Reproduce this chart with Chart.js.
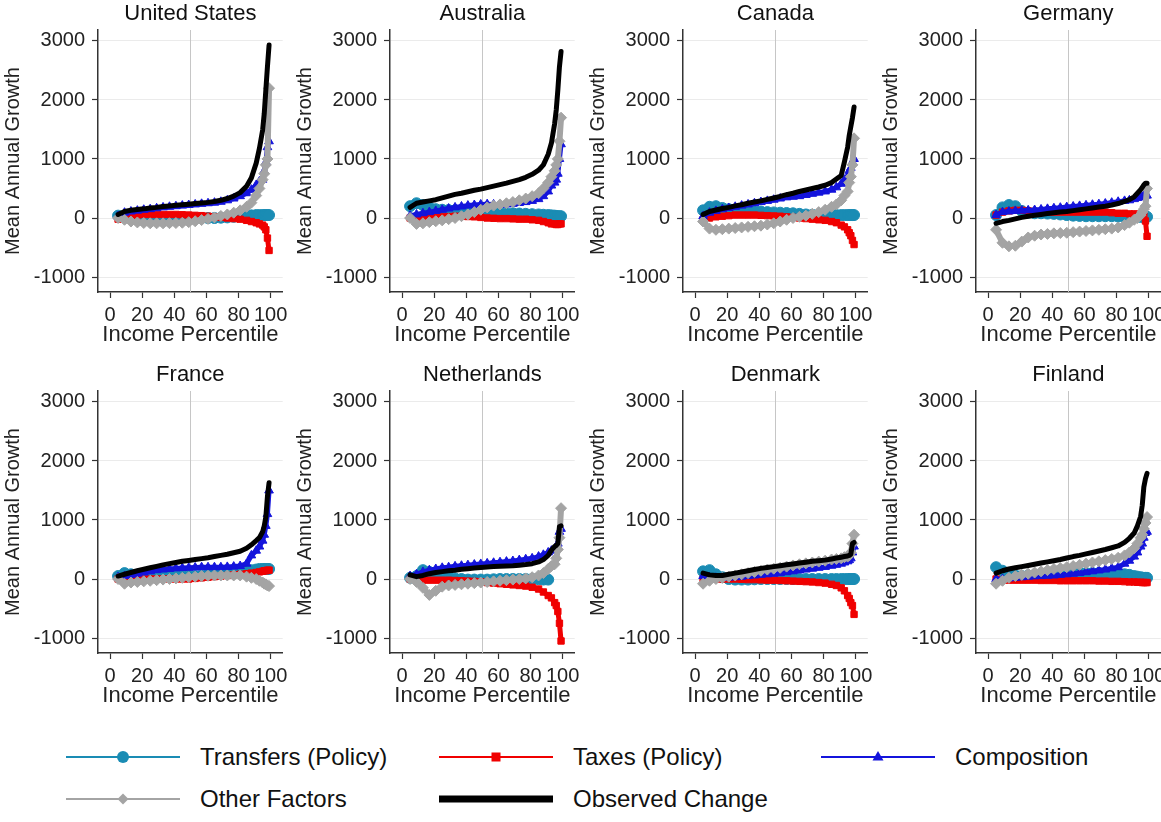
<!DOCTYPE html>
<html>
<head>
<meta charset="utf-8">
<script src="https://cdn.jsdelivr.net/npm/chart.js@4.4.0/dist/chart.umd.min.js"></script>
<style>
  body { margin: 0; background: #fff; width: 1161px; height: 822px; overflow: hidden; position: relative;
         font-family: "Liberation Sans", Arial, sans-serif; }
  .panel { position: absolute; width: 293px; height: 360px; }
  .lg { position: absolute; height: 24px; display: flex; align-items: center; font-size: 24px; color: #111; white-space: nowrap; }
  .lg svg { margin-right: 20px; }
</style>
</head>
<body>
<script>
// percentiles where the decomposition is plotted
const percentiles = [5,9,13,17,21,25,29,33,37,41,45,49,53,57,61,65,69,73,77,81,85,88,91,93,95,96,97,98,99];
const xTicks = [0, 20, 40, 60, 80, 100];
const yTicks = [-1000, 0, 1000, 2000, 3000];
const seriesNames = ['Transfers (Policy)', 'Taxes (Policy)', 'Composition', 'Other Factors', 'Observed Change'];

// United States
const usTransfers   = [40,30,20,15,10,5,0,0,0,0,0,0,0,0,0,0,5,10,20,30,40,45,50,50,50,50,50,50,50];
const usTaxes       = [-20,0,30,50,60,60,60,60,60,60,55,50,45,40,30,20,10,0,-10,-20,-40,-60,-80,-100,-120,-150,-200,-340,-550];
const usComposition = [30,90,110,125,140,150,165,180,190,200,210,220,230,240,250,260,275,300,330,370,420,480,560,620,650,800,950,1200,1300];
const usOther       = [0,-30,-60,-75,-85,-90,-90,-90,-88,-85,-80,-70,-55,-35,-15,10,35,60,90,130,190,260,380,500,650,750,900,1000,2200];
const usObserved    = [60,110,130,145,155,170,180,195,205,215,225,235,245,255,265,280,300,330,370,430,540,680,930,1180,1490,1770,2170,2565,2930];

// Australia
const auTransfers   = [200,250,220,180,150,140,135,130,120,115,110,100,95,90,85,80,80,75,70,65,60,55,50,45,40,35,30,30,30];
const auTaxes       = [0,-10,0,10,15,20,25,30,30,25,20,10,0,-5,-10,-10,-15,-20,-20,-30,-40,-60,-80,-100,-100,-110,-110,-100,-100];
const auComposition = [40,60,80,100,120,140,160,180,195,210,220,230,235,230,225,230,240,255,270,290,320,370,450,550,600,650,750,1000,1250];
const auOther       = [0,-100,-90,-70,-55,-40,-20,0,30,60,100,140,180,210,230,250,270,300,330,370,420,500,600,700,800,900,1000,1300,1700];
const auObserved    = [180,250,270,290,310,340,370,400,420,445,470,490,515,540,565,590,620,650,690,740,810,900,1080,1270,1600,1830,2170,2565,2820];

// Canada
const caTransfers   = [130,190,200,170,150,140,130,120,115,110,100,95,90,85,80,70,60,55,50,50,50,50,50,50,50,50,50,50,50];
const caTaxes       = [-30,0,20,30,40,50,50,50,50,45,40,35,30,20,10,0,-10,-20,-30,-40,-60,-80,-120,-150,-200,-250,-300,-380,-450];
const caComposition = [30,90,120,150,170,190,210,230,250,270,290,310,330,350,360,370,390,410,430,450,480,520,580,650,700,800,850,950,1000];
const caOther       = [-60,-180,-200,-190,-180,-170,-160,-150,-140,-130,-110,-90,-60,-30,0,20,40,70,100,140,190,230,300,380,450,600,700,900,1350];
const caObserved    = [60,110,135,160,180,205,225,250,270,290,315,340,365,395,420,450,475,500,525,555,600,660,720,950,1200,1400,1550,1700,1880];

// Germany
const deTransfers   = [50,180,220,200,120,90,80,80,75,70,60,50,40,35,30,30,30,30,30,25,20,20,20,20,20,20,20,20,20];
const deTaxes       = [50,100,120,130,130,120,110,100,100,100,100,100,100,100,100,100,100,100,90,80,80,70,70,60,50,40,50,-50,-310];
const deComposition = [50,100,110,120,125,130,135,145,155,165,175,185,195,205,215,225,235,245,260,275,290,300,320,340,350,360,370,380,380];
const deOther       = [-200,-420,-480,-470,-400,-330,-300,-280,-270,-260,-255,-250,-240,-230,-220,-210,-200,-190,-180,-160,-120,-80,-30,0,50,100,150,200,500];
const deObserved    = [-90,-60,-40,-15,10,30,45,60,75,90,100,110,125,140,155,170,185,200,220,245,280,310,360,420,480,520,560,590,590];

// France
const frTransfers   = [50,100,80,60,50,50,50,50,50,50,50,50,50,60,70,80,90,100,110,120,140,150,160,170,170,170,170,170,170];
const frTaxes       = [0,-20,-10,0,0,0,0,0,0,0,0,0,10,20,30,40,50,60,70,80,90,100,110,120,130,140,140,150,150];
const frComposition = [30,50,70,90,110,130,150,160,170,180,185,190,195,200,200,200,200,205,210,220,260,400,480,550,650,750,900,1100,1500];
const frOther       = [0,-80,-60,-50,-40,-30,-20,-10,0,10,20,30,40,50,55,60,60,60,60,60,40,20,0,-30,-60,-80,-90,-110,-120];
const frObserved    = [50,80,110,140,165,190,215,240,260,280,300,315,330,345,360,380,400,420,445,470,520,580,650,700,800,900,1050,1400,1630];

// Netherlands
const nlTransfers   = [20,50,150,120,80,50,30,10,0,-10,-10,-10,-10,-5,0,0,0,0,0,0,-5,-10,-10,null,null,null,null,null,null];
const nlTaxes       = [0,-10,-20,-20,-20,-20,-20,-25,-30,-35,-40,-45,-60,-70,-80,-90,-100,-110,-120,-140,-170,-220,-280,-320,-400,-450,-550,-750,-1050];
const nlComposition = [50,80,120,150,170,190,200,215,225,235,245,255,265,275,285,295,305,320,335,350,380,410,450,480,500,550,600,800,850];
const nlOther       = [0,-50,-150,-270,-200,-130,-110,-100,-90,-80,-70,-60,-50,-40,-30,-20,-10,0,10,30,60,100,170,220,250,350,500,700,1200];
const nlObserved    = [70,40,60,90,110,125,140,150,165,175,185,195,205,210,215,220,225,235,245,260,290,330,400,490,550,570,600,890,900];

// Denmark
const dkTransfers   = [130,150,80,30,0,-10,-10,-10,-5,0,0,0,0,0,0,0,0,0,0,0,0,0,0,0,0,0,0,0,0];
const dkTaxes       = [0,0,0,0,0,0,-5,-10,-10,-15,-20,-20,-25,-30,-35,-40,-45,-50,-60,-70,-90,-110,-150,-200,-280,-330,-400,-450,-600];
const dkComposition = [50,30,20,20,25,30,40,50,60,70,80,90,100,115,130,145,160,175,190,205,225,240,260,280,300,320,350,450,550];
const dkOther       = [-80,-30,0,20,40,60,80,100,120,140,160,175,190,210,230,250,265,280,295,310,330,340,350,370,380,400,450,600,750];
const dkObserved    = [100,70,60,60,80,100,120,140,160,180,195,210,225,240,255,270,285,300,310,320,340,355,370,380,390,400,420,600,620];

// Finland
const fiTransfers   = [200,140,80,60,50,60,70,80,90,100,100,100,100,100,100,100,100,95,90,85,80,70,50,40,30,20,20,20,20];
const fiTaxes       = [0,-20,-20,-20,-20,-20,-20,-25,-25,-25,-30,-30,-30,-30,-30,-30,-35,-35,-40,-40,-45,-50,-50,-55,-55,-60,-60,-60,-60];
const fiComposition = [0,0,10,20,30,40,45,50,55,60,70,80,90,100,115,130,145,160,180,200,260,310,380,450,550,600,700,780,800];
const fiOther       = [-80,-30,20,50,70,90,110,130,150,170,185,200,220,240,260,280,300,320,340,360,400,450,520,600,700,750,850,950,1050];
const fiObserved    = [100,140,170,190,210,230,250,270,290,310,330,355,380,400,425,450,475,500,530,560,620,690,780,900,1060,1250,1560,1700,1790];

const panels = [
  ['United States', [usTransfers, usTaxes, usComposition, usOther, usObserved]],
  ['Australia',     [auTransfers, auTaxes, auComposition, auOther, auObserved]],
  ['Canada',        [caTransfers, caTaxes, caComposition, caOther, caObserved]],
  ['Germany',       [deTransfers, deTaxes, deComposition, deOther, deObserved]],
  ['France',        [frTransfers, frTaxes, frComposition, frOther, frObserved]],
  ['Netherlands',   [nlTransfers, nlTaxes, nlComposition, nlOther, nlObserved]],
  ['Denmark',       [dkTransfers, dkTaxes, dkComposition, dkOther, dkObserved]],
  ['Finland',       [fiTransfers, fiTaxes, fiComposition, fiOther, fiObserved]]
];

// look of each series (dense markers in the original read as thick bands)
const styles = [
  { color: '#1a8cb4', pointStyle: 'circle',    radius: 5.5, width: 7, order: 4 },
  { color: '#f00000', pointStyle: 'rect',      radius: 4.5, width: 5, order: 3 },
  { color: '#1414dc', pointStyle: 'triangle',  radius: 5,   width: 5, order: 2 },
  { color: '#a4a4a4', pointStyle: 'rectRot',   radius: 5.5, width: 6, order: 1 },
  { color: '#000000', pointStyle: false,       radius: 0,   width: 5, order: 0 }
];

const ink = '#222';
const fontFamily = '"Liberation Sans", Arial, sans-serif';
Chart.defaults.font.family = fontFamily;

// median line at 50 and the panel title over the plot area
const panelDecor = {
  id: 'panelDecor',
  beforeDatasetsDraw(chart) {
    const { ctx, chartArea: a, scales: { x } } = chart;
    const px = Math.round(x.getPixelForValue(50)) + 0.5;
    ctx.save();
    ctx.strokeStyle = '#c6c6c6';
    ctx.lineWidth = 1;
    ctx.beginPath();
    ctx.moveTo(px, a.top);
    ctx.lineTo(px, a.bottom);
    ctx.stroke();
    ctx.restore();
  },
  afterDraw(chart, args, opts) {
    const { ctx, chartArea: a } = chart;
    ctx.save();
    ctx.font = '22px ' + fontFamily;
    ctx.fillStyle = '#111';
    ctx.textAlign = 'center';
    ctx.textBaseline = 'middle';
    ctx.fillText(opts.text, (a.left + a.right) / 2, 14);
    ctx.restore();
  }
};

panels.forEach(([country, values], i) => {
  const div = document.createElement('div');
  div.className = 'panel';
  div.style.left = [0, 292, 585, 878][i % 4] + 'px';
  div.style.top = (i < 4 ? 0 : 361) + 'px';
  const canvas = document.createElement('canvas');
  canvas.width = 293;
  canvas.height = 360;
  div.appendChild(canvas);
  document.body.appendChild(div);

  const datasets = values.map((vals, k) => ({
    label: seriesNames[k],
    data: percentiles.map((p, j) => ({ x: p, y: vals[j] })),
    borderColor: styles[k].color,
    backgroundColor: styles[k].color,
    borderWidth: styles[k].width,
    pointStyle: styles[k].pointStyle,
    pointRadius: styles[k].radius,
    pointBorderWidth: 1,
    borderJoinStyle: 'round',
    borderCapStyle: 'round',
    tension: 0,
    order: styles[k].order
  }));

  new Chart(canvas, {
    type: 'line',
    data: { datasets },
    options: {
      responsive: false,
      animation: false,
      events: [],
      layout: { padding: { top: 30, right: 10, left: 0, bottom: 0 } },
      plugins: {
        legend: { display: false },
        tooltip: { enabled: false },
        panelDecor: { text: country }
      },
      scales: {
        x: {
          type: 'linear',
          min: -7.5,
          max: 107.5,
          afterBuildTicks: s => { s.ticks = xTicks.map(v => ({ value: v })); },
          afterFit: s => { s.height = 68; },
          grid: { drawOnChartArea: false, tickLength: 6, tickColor: '#333', tickWidth: 1.2 },
          border: { color: '#333', width: 1.5 },
          ticks: { font: { size: 20 }, color: ink, padding: 5, autoSkip: false, maxRotation: 0, callback: v => String(v) },
          title: { display: true, text: 'Income Percentile', font: { size: 22 }, color: ink, padding: { top: 0, bottom: 12 } }
        },
        y: {
          min: -1254,
          max: 3186,
          afterBuildTicks: s => { s.ticks = yTicks.map(v => ({ value: v })); },
          afterFit: s => { s.width = 98; },
          grid: { color: '#ebebeb', tickLength: 6, tickColor: '#333', tickWidth: 1.2 },
          border: { color: '#333', width: 1.5 },
          ticks: { font: { size: 20 }, color: ink, padding: 7, callback: v => String(v) },
          title: { display: true, text: 'Mean Annual Growth', font: { size: 20 }, color: ink, padding: { top: 1, bottom: 0 } }
        }
      }
    },
    plugins: [panelDecor]
  });
});

// legend below the panels
const legendSlots = [[66, 757], [439, 757], [821, 757], [66, 799], [439, 799]];
const markerSvg = [
  c => `<circle cx="57" cy="12" r="6" fill="${c}"/>`,
  c => `<rect x="52.5" y="7.5" width="9" height="9" fill="${c}"/>`,
  c => `<polygon points="57,6 62.5,15.5 51.5,15.5" fill="${c}"/>`,
  c => `<polygon points="57,6.5 62.5,12 57,17.5 51.5,12" fill="${c}"/>`,
  c => ''
];
seriesNames.forEach((name, k) => {
  const el = document.createElement('div');
  el.className = 'lg';
  el.style.left = legendSlots[k][0] + 'px';
  el.style.top = (legendSlots[k][1] - 12) + 'px';
  const w = k === 4 ? 7 : 2.2;
  el.innerHTML = `<svg width="114" height="24"><line x1="0" y1="12" x2="114" y2="12" stroke="${styles[k].color}" stroke-width="${w}"/>${markerSvg[k](styles[k].color)}</svg><span>${name}</span>`;
  document.body.appendChild(el);
});
</script>
</body>
</html>
